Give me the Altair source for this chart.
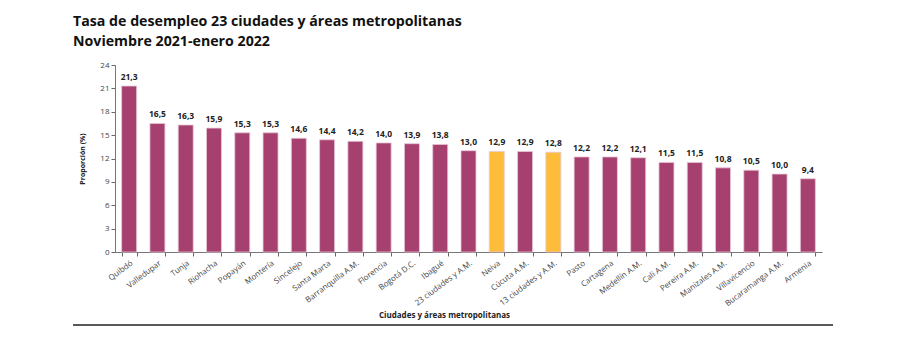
import altair as alt
import pandas as pd

cities = ["Quibdó", "Valledupar", "Tunja", "Riohacha", "Popayán", "Montería", "Sincelejo",
          "Santa Marta", "Barranquilla A.M.", "Florencia", "Bogotá D.C.", "Ibagué",
          "23 ciudades y A.M.", "Neiva", "Cúcuta A.M.", "13 ciudades y A.M.", "Pasto",
          "Cartagena", "Medellín A.M.", "Cali A.M.", "Pereira A.M.", "Manizales A.M.",
          "Villavicencio", "Bucaramanga A.M.", "Armenia"]
values = [21.3, 16.5, 16.3, 15.9, 15.3, 15.3, 14.6, 14.4, 14.2, 14.0, 13.9, 13.8,
          13.0, 12.9, 12.9, 12.8, 12.2, 12.2, 12.1, 11.5, 11.5, 10.8, 10.5, 10.0, 9.4]
highlight = ["Neiva", "13 ciudades y A.M."]
y_ticks = [0, 3, 6, 9, 12, 15, 18, 21, 24]

df = pd.DataFrame({"ciudad": cities, "valor": values})
df["grupo"] = ["h" if c in highlight else "n" for c in cities]
df["etiqueta"] = [f"{v:.1f}".replace(".", ",") for v in values]

FONT = "Open Sans"
W, H = 707, 187

xenc = alt.X("ciudad:N", sort=cities,
             scale=alt.Scale(paddingInner=0.47, paddingOuter=0.235),
             axis=alt.Axis(title="Ciudades y áreas metropolitanas", titleFont=FONT,
                           titleFontSize=8, titleFontWeight="bold", titleColor="#222",
                           titleX=329, titleY=63, titleBaseline="middle",
                           labelFont=FONT, labelFontSize=8, labelColor="#444",
                           labelAngle=323, labelAlign="right", labelBaseline="top",
                           labelPadding=3, tickBand="extent", tickSize=4,
                           tickColor="#666", domainColor="#777", labelOverlap=False))
yenc = alt.Y("valor:Q", scale=alt.Scale(domain=[0, 24], nice=False),
             axis=alt.Axis(values=y_ticks, title="Proporción (%)",
                           titleFont=FONT, titleFontSize=7, titleFontWeight="bold",
                           titleColor="#222", titlePadding=14, labelOverlap=False,
                           labelFont=FONT, labelFontSize=8, labelColor="#444",
                           tickSize=4, tickColor="#666", domainColor="#777", grid=False))

bars = alt.Chart(df).mark_bar(stroke="#e9c6d6", strokeWidth=0.8).encode(
    x=xenc, y=yenc,
    color=alt.Color("grupo:N", scale=alt.Scale(domain=["n", "h"], range=["#A6406F", "#FDBD3B"]),
                    legend=None))

labels = alt.Chart(df).mark_text(font=FONT, fontSize=8.5, fontWeight="bold", color="#222",
                                 baseline="bottom", dy=-4).encode(
    x=xenc, y=yenc, text="etiqueta:N")

line = alt.Chart(pd.DataFrame({"a": [0]})).mark_rule(color="#222", strokeWidth=1.5).encode(
    x=alt.value(-42), x2=alt.value(718), y=alt.value(H + 73))

chart = alt.layer(bars, labels, line).properties(
    width=W, height=H,
    title=alt.Title(["Tasa de desempleo 23 ciudades y áreas metropolitanas",
                     "Noviembre 2021-enero 2022"],
                    anchor="start", frame="group", dx=-42, font=FONT, fontSize=14.2,
                    fontWeight="bold", color="#111", lineHeight=20, offset=12),
    autosize=alt.AutoSizeParams(type="none"),
    padding={"left": 115, "top": 65, "right": 84, "bottom": 90},
).configure_view(stroke=None)

chart.save("out.html", embed_options={"renderer": "svg", "actions": False})
